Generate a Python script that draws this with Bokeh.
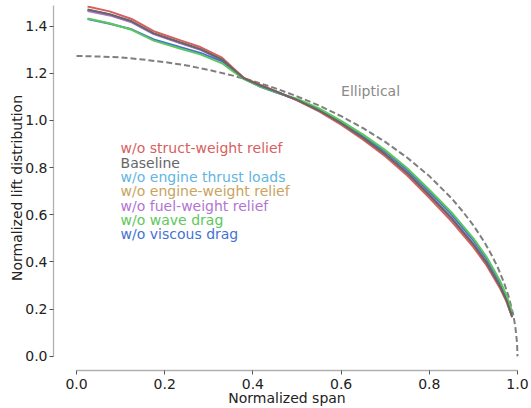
from bokeh.plotting import figure
from bokeh.models import Range1d, FixedTicker, PrintfTickFormatter
from bokeh.core.properties import value
from bokeh.embed import file_html
from bokeh.resources import INLINE

FONT = "DejaVu Sans"

# ---- data -------------------------------------------------------------
span = [0.025, 0.075, 0.125, 0.175, 0.236, 0.281, 0.33, 0.355, 0.38, 0.417,
        0.45, 0.5, 0.55, 0.6, 0.65, 0.7, 0.75, 0.8, 0.85, 0.9, 0.93, 0.96,
        0.975, 0.988]

struct_weight = [1.483, 1.462, 1.430, 1.378, 1.339, 1.311, 1.266, 1.222, 1.180, 1.150,
                 1.126, 1.085, 1.038, 0.982, 0.918, 0.848, 0.766, 0.672, 0.573, 0.463,
                 0.385, 0.290, 0.232, 0.165]
baseline = [1.470, 1.450, 1.420, 1.369, 1.330, 1.302, 1.258, 1.218, 1.178, 1.148,
            1.124, 1.087, 1.042, 0.988, 0.926, 0.857, 0.777, 0.684, 0.586, 0.475,
            0.396, 0.298, 0.238, 0.168]
engine_thrust = [1.468, 1.448, 1.418, 1.368, 1.329, 1.301, 1.257, 1.218, 1.178, 1.147,
                 1.123, 1.086, 1.041, 0.987, 0.925, 0.856, 0.776, 0.683, 0.585, 0.474,
                 0.395, 0.297, 0.237, 0.167]
engine_weight = [1.469, 1.449, 1.419, 1.368, 1.329, 1.301, 1.257, 1.218, 1.178, 1.148,
                 1.124, 1.087, 1.042, 0.989, 0.927, 0.858, 0.778, 0.686, 0.588, 0.477,
                 0.398, 0.300, 0.240, 0.169]
fuel_weight = [1.464, 1.445, 1.416, 1.366, 1.327, 1.299, 1.256, 1.217, 1.178, 1.148,
               1.124, 1.087, 1.043, 0.989, 0.927, 0.858, 0.778, 0.686, 0.588, 0.477,
               0.398, 0.300, 0.240, 0.170]
wave_drag = [1.432, 1.412, 1.384, 1.338, 1.304, 1.280, 1.242, 1.208, 1.175, 1.143,
             1.121, 1.092, 1.051, 0.998, 0.940, 0.874, 0.797, 0.706, 0.611, 0.500,
             0.421, 0.322, 0.258, 0.188]
viscous_drag = [1.430, 1.410, 1.386, 1.343, 1.310, 1.286, 1.250, 1.212, 1.176, 1.142,
                1.120, 1.088, 1.046, 0.994, 0.934, 0.868, 0.790, 0.698, 0.602, 0.492,
                0.413, 0.315, 0.252, 0.182]

ellip_span = [0.0, 0.05, 0.1, 0.15, 0.2, 0.25, 0.3, 0.35, 0.4, 0.45, 0.5, 0.55, 0.6,
              0.65, 0.7, 0.75, 0.8, 0.85, 0.875, 0.9, 0.925, 0.94, 0.955, 0.97,
              0.98, 0.99, 0.995, 0.999, 1.0]
ellip_lift = [1.273, 1.271, 1.267, 1.258, 1.247, 1.233, 1.214, 1.192, 1.167, 1.137,
              1.102, 1.063, 1.018, 0.967, 0.909, 0.842, 0.764, 0.671, 0.616, 0.555,
              0.484, 0.434, 0.378, 0.309, 0.253, 0.180, 0.127, 0.057, 0.0]

labels = ["w/o struct-weight relief", "Baseline", "w/o engine thrust loads",
          "w/o engine-weight relief", "w/o fuel-weight relief", "w/o wave drag",
          "w/o viscous drag"]
series = [struct_weight, baseline, engine_thrust, engine_weight, fuel_weight,
          wave_drag, viscous_drag]
colors = ["#d65f5f", "#666666", "#62b6e0", "#c8a45e", "#b274d2", "#5cc85c", "#4472d4"]
draw_order = [2, 3, 4, 6, 5, 0, 1]

x_ticks = [0.0, 0.2, 0.4, 0.6, 0.8, 1.0]
y_ticks = [0.0, 0.2, 0.4, 0.6, 0.8, 1.0, 1.2, 1.4]

# ---- figure -----------------------------------------------------------
p = figure(width=531, height=408, output_backend="svg", toolbar_location=None,
           x_range=Range1d(-0.0522, 1.0068), y_range=Range1d(-0.060, 1.487),
           min_border_left=53, min_border_right=11, min_border_top=5,
           min_border_bottom=35)
p.outline_line_color = None
p.grid.visible = False
p.background_fill_color = "white"
p.border_fill_color = "white"

for ax, ticks, bnds in ((p.xaxis, x_ticks, (0, 1.0)), (p.yaxis, y_ticks, (0, 1.5))):
    ax.ticker = FixedTicker(ticks=ticks)
    ax.formatter = PrintfTickFormatter(format="%.1f")
    ax.bounds = bnds
    ax.axis_line_color = "#b0b0b0"
    ax.axis_line_width = 1.3
    ax.major_tick_line_color = "#555555"
    ax.major_tick_out = 4
    ax.major_tick_in = 0
    ax.minor_tick_line_color = None
    ax.major_label_text_font = FONT
    ax.major_label_text_font_size = "14px"
    ax.major_label_text_color = "#222222"
    ax.major_label_standoff = 2
    ax.axis_label_text_font = FONT
    ax.axis_label_text_font_size = "14px"
    ax.axis_label_text_font_style = "normal"
    ax.axis_label_text_color = "#222222"

p.yaxis.axis_label = "Normalized lift distribution"
p.yaxis.axis_label_standoff = -3
p.xaxis.axis_label = "Normalized span"
p.xaxis.major_label_standoff = 4
p.xaxis.axis_label_standoff = -2

# elliptical reference
p.line(ellip_span, ellip_lift, line_color="#7f7f7f", line_width=2, line_dash="6 3")
p.text(x=[0.6], y=[1.123], text=["Elliptical"], text_font=value(FONT),
       text_font_size="14px", text_color="#8a8a8a", text_baseline="middle")

for i in draw_order:
    p.line(span, series[i], line_color=colors[i], line_width=2)

# label list
lab_x = 0.100
lab_y0 = 0.881
lab_step = 0.0607
p.text(x=[lab_x] * len(labels), y=[lab_y0 - k * lab_step for k in range(len(labels))],
       text=labels, text_color=colors, text_font=value(FONT), text_font_size="14px",
       text_baseline="middle")

open("out.html", "w").write(file_html(p, INLINE))
